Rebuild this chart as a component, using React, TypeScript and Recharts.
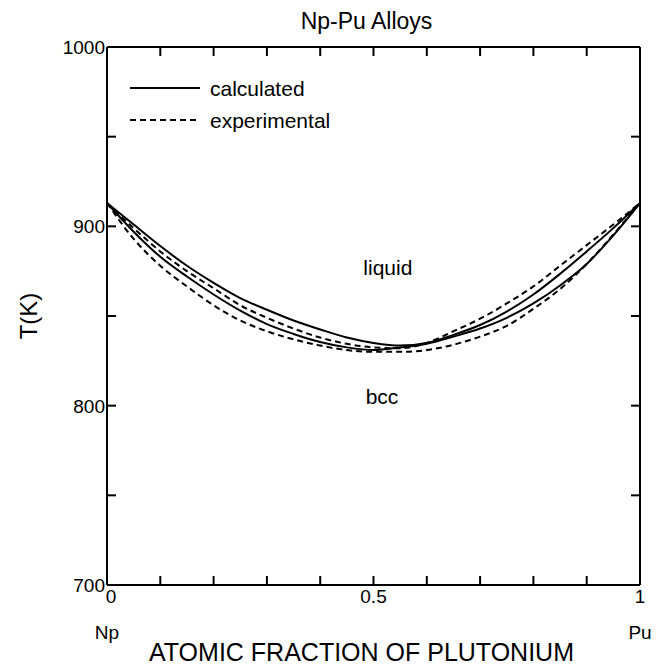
import { LineChart, Line, XAxis, YAxis, ReferenceDot } from "recharts"

const FONT = '"Liberation Sans", Arial, Helvetica, sans-serif'

// atomic fraction of Pu
const xPu = [0, 0.05, 0.1, 0.15, 0.2, 0.25, 0.3, 0.35, 0.4, 0.45, 0.5, 0.55, 0.6, 0.65, 0.7, 0.75, 0.8, 0.85, 0.9, 0.95, 1]

// temperatures in K
const calcLiquidus = [913, 901, 889, 878, 868.5, 860, 853.5, 847.5, 842.5, 838, 835, 833.5, 835, 839.5, 845, 852.5, 862, 873.5, 886, 899, 913]
const calcSolidus = [913, 897, 883, 872, 862, 853, 845.5, 840, 835.5, 832.5, 831, 832.5, 834.5, 838.5, 843, 849, 857, 867, 879, 895, 913]
const expLiquidus = [913, 899, 886, 875, 865.5, 856, 849, 843, 838, 834.5, 832.5, 832, 835, 841.5, 848.5, 857, 866.5, 878, 889.5, 901, 913]
const expSolidus = [913, 893, 878, 866.5, 856, 847.5, 841.5, 837, 833.5, 831, 830, 830, 831, 834, 838.5, 844.5, 854, 865, 879, 895.5, 913]

const xTicks = [0, 0.1, 0.2, 0.3, 0.4, 0.5, 0.6, 0.7, 0.8, 0.9, 1]
const xTickLabels = ["0", "", "", "", "", "0.5", "", "", "", "", "1"]
const xEndLabels = ["Np", "", "", "", "", "", "", "", "", "", "Pu"]
const tTicks = [700, 750, 800, 850, 900, 950, 1000]
const tTickLabels = ["700", "", "800", "", "900", "", "1000"]

const data = xPu.map((x, i) => ({
  x,
  calcLiq: calcLiquidus[i],
  calcSol: calcSolidus[i],
  expLiq: expLiquidus[i],
  expSol: expSolidus[i],
}))

function BottomTick({ x, y, index }: any) {
  const label = xTickLabels[index]
  const end = xEndLabels[index]
  const nudge = index === 0 ? 4 : 0
  return (
    <g fontFamily={FONT} fill="#000">
      {label && <text x={x + nudge} y={y} dy="0.71em" textAnchor="middle" fontSize={19}>{label}</text>}
      {end && <text x={x} y={y + 36} dy="0.71em" textAnchor="middle" fontSize={19}>{end}</text>}
    </g>
  )
}

function LeftTick({ x, y, index }: any) {
  const label = tTickLabels[index]
  if (!label) return <g />
  return (
    <text x={x} y={y} dy="0.36em" textAnchor="end" fontSize={19} fontFamily={FONT} fill="#000">
      {label}
    </text>
  )
}

// tick marks only, no text
const NoLabel = () => <g />

// line key in the upper left corner of the plot
function KeyBox() {
  return (
    <svg width={220} height={60} style={{ position: "absolute", left: 130, top: 78 }}>
      <line x1={0} y1={10} x2={70} y2={10} stroke="#000" strokeWidth={2} />
      <text x={80} y={10} dy="0.36em" fontSize={21} fontFamily={FONT}>calculated</text>
      <line x1={0} y1={42} x2={70} y2={42} stroke="#000" strokeWidth={2} strokeDasharray="6 4" />
      <text x={80} y={42} dy="0.36em" fontSize={21} fontFamily={FONT}>experimental</text>
    </svg>
  )
}

export default function App() {
  return (
    <div style={{ position: "relative", width: 659, height: 670, background: "#fff" }}>
      <style>{"body{margin:0}"}</style>
      <div
        style={{
          position: "absolute", left: 0, width: 659, top: 7, paddingLeft: 74,
          textAlign: "center", fontFamily: FONT, fontSize: 23, lineHeight: "28px", boxSizing: "border-box",
        }}
      >
        Np-Pu Alloys
      </div>
      <LineChart width={659} height={670} data={data} margin={{ top: 44, right: 16, bottom: 0, left: 0 }}>
        <XAxis
          dataKey="x" type="number" domain={[0, 1]} ticks={xTicks} interval={0}
          height={85} tickSize={-9} tickMargin={14}
          stroke="#000" strokeWidth={2} tick={BottomTick}
          label={{
            content: ({ viewBox }: any) => (
              <text
                x={viewBox.x + viewBox.width / 2 - 12} y={viewBox.y + 76}
                textAnchor="middle" fontSize={25} fontFamily={FONT} fill="#000"
              >
                ATOMIC FRACTION OF PLUTONIUM
              </text>
            ),
          }}
        />
        {/* top and right axes close the frame; same domains as bottom/left */}
        <XAxis
          xAxisId="top" orientation="top" dataKey="x" type="number" domain={[0, 1]} ticks={xTicks} interval={0}
          height={3} tickSize={-9} tickMargin={0} tick={NoLabel} stroke="#000" strokeWidth={2}
        />
        <YAxis
          type="number" domain={[700, 1000]} ticks={tTicks} interval={0}
          width={107} tickSize={-9} tickMargin={11}
          stroke="#000" strokeWidth={2} tick={LeftTick}
          label={{
            content: ({ viewBox }: any) => {
              const cx = 28
              const cy = viewBox.y + viewBox.height / 2
              return (
                <text
                  x={cx} y={cy} transform={`rotate(-90 ${cx} ${cy})`} dy="0.36em"
                  textAnchor="middle" fontSize={24} fontFamily={FONT} fill="#000"
                >
                  T(K)
                </text>
              )
            },
          }}
        />
        <YAxis
          yAxisId="right" orientation="right" type="number" domain={[700, 1000]} ticks={tTicks} interval={0}
          width={3} tickSize={-9} tickMargin={0} tick={NoLabel} stroke="#000" strokeWidth={2}
        />

        <Line dataKey="calcLiq" type="monotone" stroke="#000" strokeWidth={2} dot={false} isAnimationActive={false} />
        <Line dataKey="calcSol" type="monotone" stroke="#000" strokeWidth={2} dot={false} isAnimationActive={false} />
        <Line xAxisId="top" yAxisId="right" dataKey="expLiq" type="monotone" stroke="#000" strokeWidth={2} strokeDasharray="6 4" dot={false} isAnimationActive={false} />
        <Line xAxisId="top" yAxisId="right" dataKey="expSol" type="monotone" stroke="#000" strokeWidth={2} strokeDasharray="6 4" dot={false} isAnimationActive={false} />

        <ReferenceDot x={0.527} y={877} r={0} label={{ value: "liquid", position: "center", fontSize: 21, fontFamily: FONT, fill: "#000" }} />
        <ReferenceDot x={0.516} y={805} r={0} label={{ value: "bcc", position: "center", fontSize: 21, fontFamily: FONT, fill: "#000" }} />
      </LineChart>
      <KeyBox />
    </div>
  )
}
